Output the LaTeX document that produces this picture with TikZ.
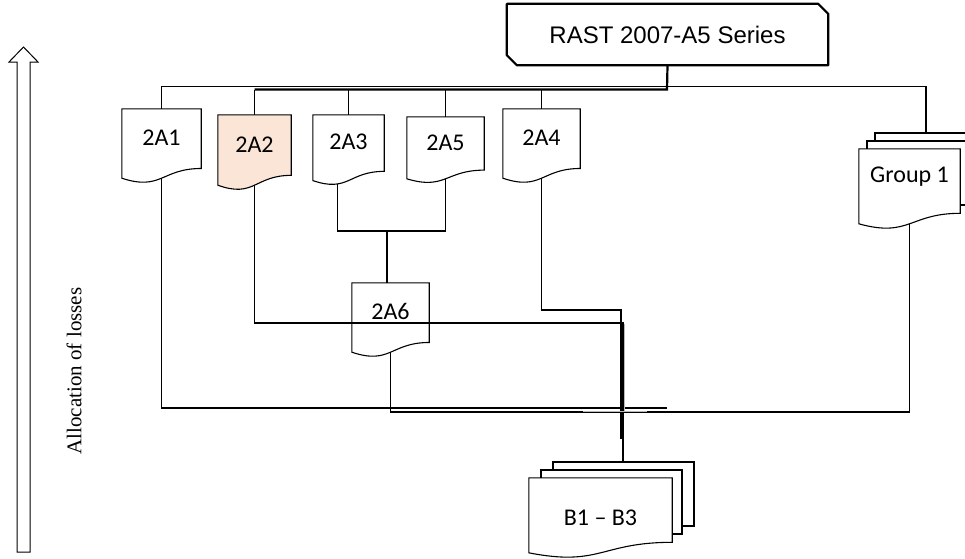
\documentclass[tikz,border=0pt]{standalone}
\usepackage{fontspec}
\setmainfont{Liberation Serif}
\newfontfamily\calibfont{Carlito}
\newfontfamily\arialfont{Liberation Sans}
\usetikzlibrary{calc,backgrounds}
\definecolor{peach}{HTML}{FBE5D6}
\tikzset{
  docbox/.style={inner sep=0pt, font=\calibfont\fontsize{24}{28}\selectfont, text height=20pt},
  docline/.style={draw=black, line width=1.1pt, line join=miter},
  conn/.style={draw=black, line width=1.1pt},
  bus/.style={draw=black, line width=2.2pt},
  topbox/.style={inner sep=0pt, minimum width=321pt, minimum height=61pt, font=\arialfont\fontsize{24}{28}\selectfont, text height=17.2pt, text depth=0pt},
  frame/.style={draw=black, line width=2.2pt, line join=round},
  artifact/.style={draw=gray!55, line width=1pt},
  axislabel/.style={font=\rmfamily\fontsize{21}{25}\selectfont, rotate=90, inner sep=0pt},
}
\newcommand\docoutline[2][]{%
  \draw[docline,#1] (#2.north west) -- (#2.north east)
    -- ($(#2.north east)!0.86!(#2.south east)$)
    .. controls ($(#2.north)!0.86!(#2.south)$) and ($(#2.north)!1.187!(#2.south)$) .. (#2.south west)
    coordinate[pos=0.69] (#2-wl) -- cycle;}
\begin{document}
\begin{tikzpicture}[x=1pt,y=-1pt]
\useasboundingbox (0,0) rectangle (965,558);

% hollow arrow on the left
\draw[line width=1pt] (17,552) -- (17,62) -- (9,62) -- (23.5,47) -- (38,62) -- (30,62) -- (30,552) -- cycle;
\node[axislabel] (axis) at (74,371) {Allocation of losses};

% top box (chamfered top-right and bottom-left corners)
\node[topbox] (top) at (667.5,34.5) {RAST 2007-A5 Series};
\draw[frame] (top.north west) -- ([xshift=-10pt]top.north east) -- ([yshift=-10pt]top.north east)
  -- (top.south east) -- ([xshift=10pt]top.south west) -- ([yshift=10pt]top.south west) -- cycle;

% documents
\node[docbox, minimum width=79pt, minimum height=69pt, text depth=15.5pt] (a1) at (161.5,143.5) {2A1};
\node[docbox, minimum width=73pt, minimum height=70pt, text depth=14.5pt] (a2) at (254.5,150) {2A2};
\node[docbox, minimum width=71pt, minimum height=65.3pt, text depth=15.9pt] (a3) at (348.5,147.7) {2A3};
\node[docbox, minimum width=77pt, minimum height=61.6pt, text depth=14.1pt] (a5) at (445.5,147.8) {2A5};
\node[docbox, minimum width=77pt, minimum height=69pt, text depth=15.5pt] (a4) at (541.5,143.5) {2A4};
\node[docbox, minimum width=77pt, minimum height=69pt, text depth=15.5pt] (a6) at (390.5,317.5) {2A6};
\node[docbox, minimum width=101pt, minimum height=74.6pt, text depth=27.1pt] (g1) at (909.5,186.3) {Group 1};
\node[docbox, minimum width=143pt, minimum height=74.6pt, text depth=0pt] (b) at (600.5,515.3) {B1 – B3};

\docoutline{a1}
\begin{scope}[on background layer]
  \docoutline[fill=peach]{a2}
\end{scope}
\docoutline{a3}
\docoutline{a5}
\docoutline{a4}
\docoutline{a6}
\docoutline{g1}
\docoutline{b}

% stacked pages behind
\draw[docline] (541,478) -- (541,470) -- (682,470) -- (682,534) -- (672,534);
\draw[docline] (553,470) -- (553,462) -- (694,462) -- (694,526) -- (682,526);
\draw[docline] (867,149) -- (867,141) -- (970,141) -- (970,205) -- (960,205);
\draw[docline] (875,141) -- (875,133) -- (982,133) -- (982,197) -- (970,197);

% connector points
\coordinate (busT) at (667,86.5);
\coordinate (busB) at (667,89.5);
\coordinate (gtop) at (926,133);
\coordinate (btop) at (623,462);
\coordinate (m35) at (387,231);
\coordinate (k2) at (623,323);
\coordinate (k4) at (621,310);
\coordinate (e4) at (621,439);
\coordinate (e1) at (667,408);
\coordinate (k6) at (909.5,412);

% top connectors
\draw[bus] (top.south) -- (busB) -- (busB -| a2.north);
\draw[conn] (busB -| a2.north) -- (a2.north);
\draw[conn] (busB -| a3.north) -- (a3.north);
\draw[conn] (busB -| a5.north) -- (a5.north);
\draw[conn] (busB -| a4.north) -- (a4.north);
\draw[conn] (a1.north) -- (a1.north |- busT) -- (gtop |- busT) -- (gtop);

% lower connectors
\draw[conn] (a1.south) |- (e1);
\draw[conn] (a2.south) |- (k2) -- (btop);
\draw[conn] (a3-wl) -- (a3-wl |- m35) -- (a5.south |- m35) -- (a5.south);
\draw[conn] (m35) -- (m35 |- a6.north);
\draw[conn] (a4.south) |- (k4) -- (e4);
\draw[conn] (a6.south) |- (k6) -- (g1.south);

% faint overlap traces
\draw[artifact] (583,411.5) -- (647,411.5);
\draw[artifact] (624.8,324) -- (624.8,411);
\end{tikzpicture}
\end{document}
